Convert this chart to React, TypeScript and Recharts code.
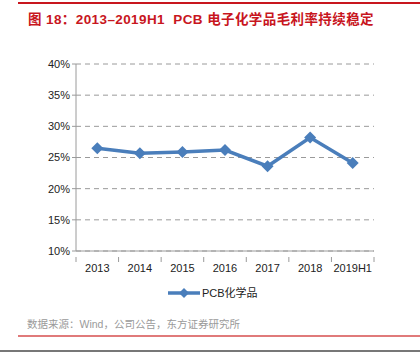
import { LineChart, Line, XAxis, YAxis, CartesianGrid } from 'recharts'

// ── Data ─────────────────────────────────────────────────────────────────────
const YEARS = ['2013', '2014', '2015', '2016', '2017', '2018', '2019H1']
const MARGIN = [26.5, 25.7, 25.9, 26.2, 23.6, 28.2, 24.1]
const Y_TICKS = [10, 15, 20, 25, 30, 35, 40]

const data = YEARS.map((year, i) => ({ year, margin: MARGIN[i] }))

// ── Styles ───────────────────────────────────────────────────────────────────
const FONT = '"Liberation Sans", Arial, "Noto Sans CJK SC", sans-serif'
const BLUE = '#4a7ebb'
const AXIS_GRAY = '#9a9a9a'
const RED = '#c8161e'
const BAND = 298 / YEARS.length

function Diamond({ cx, cy }: { cx?: number; cy?: number }) {
  if (cx == null || cy == null) return null
  const r = 6
  return (
    <polygon
      points={`${cx},${cy - r} ${cx + r},${cy} ${cx},${cy + r} ${cx - r},${cy}`}
      fill={BLUE}
    />
  )
}

function XTick({ x, y, payload, index }: { x?: number; y?: number; payload?: { value: string }; index?: number }) {
  if (x == null || y == null) return null
  const last = index === YEARS.length - 1
  return (
    <g>
      <line x1={x - BAND / 2} x2={x - BAND / 2} y1={y - 2} y2={y + 3} stroke={AXIS_GRAY} />
      {last && <line x1={x + BAND / 2} x2={x + BAND / 2} y1={y - 2} y2={y + 3} stroke={AXIS_GRAY} />}
      <text x={x} y={y + 13} textAnchor="middle" fontSize={11} fill="#222" fontFamily={FONT}>
        {payload?.value}
      </text>
    </g>
  )
}

export default function App() {
  return (
    <div style={{ position: 'absolute', left: 0, top: 0, width: 420, height: 355, background: '#fff', fontFamily: FONT }}>
      <div style={{ position: 'absolute', left: 18, top: 2, width: 402, height: 2, background: RED }} />
      <div style={{
        position: 'absolute', left: 28, top: 8, fontSize: 13.5, fontWeight: 'bold', color: RED,
        letterSpacing: 0.4, fontFamily: FONT, whiteSpace: 'nowrap',
      }}>
        图 18：2013–2019H1&nbsp; PCB 电子化学品毛利率持续稳定
      </div>

      <div style={{ position: 'absolute', left: 0, top: 0 }}>
        <LineChart width={420} height={280} data={data} margin={{ top: 64, right: 46, left: 0, bottom: 0 }}>
          <CartesianGrid vertical={false} stroke={AXIS_GRAY} strokeDasharray="5 4" />
          <XAxis
            dataKey="year"
            height={29}
            stroke={AXIS_GRAY}
            tickLine={false}
            tick={<XTick />}
            interval={0}
            padding={{ left: BAND / 2, right: BAND / 2 }}
          />
          <YAxis
            width={76}
            domain={[10, 40]}
            ticks={Y_TICKS}
            stroke={AXIS_GRAY}
            tickSize={4}
            tickFormatter={(v) => `${v}%`}
            tick={{ fontSize: 11, fill: '#222', fontFamily: FONT }}
          />
          <Line
            dataKey="margin"
            stroke={BLUE}
            strokeWidth={3.5}
            dot={<Diamond />}
            isAnimationActive={false}
          />
        </LineChart>
      </div>

      {/* legend */}
      <svg style={{ position: 'absolute', left: 160, top: 283 }} width={120} height={20}>
        <line x1={8} x2={40} y1={10} y2={10} stroke={BLUE} strokeWidth={3.5} />
        <polygon points="24,5 29,10 24,15 19,10" fill={BLUE} />
        <text x={42} y={14} fontSize={11} fill="#222" fontFamily={FONT}>PCB化学品</text>
      </svg>

      <div style={{ position: 'absolute', left: 27, top: 316, fontSize: 10.5, color: '#9a9a9a', whiteSpace: 'nowrap' }}>
        数据来源：Wind，公司公告，东方证券研究所
      </div>
      <div style={{ position: 'absolute', left: 18, top: 335, width: 402, height: 1.5, background: '#e07a7a' }} />
      <div style={{ position: 'absolute', left: 0, top: 350, width: 420, height: 2, background: '#777' }} />
    </div>
  )
}
